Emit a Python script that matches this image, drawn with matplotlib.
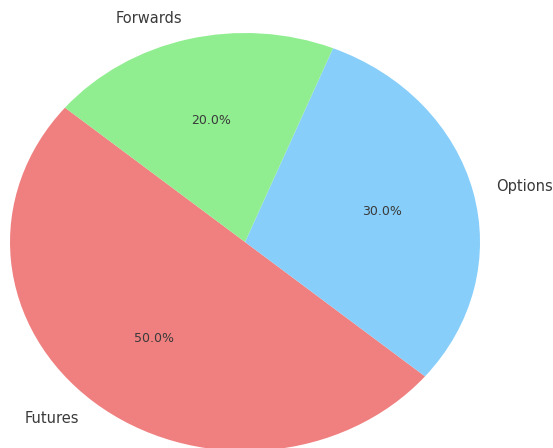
import matplotlib
matplotlib.use("Agg")
import matplotlib.pyplot as plt

labels = ["Futures", "Options", "Forwards"]
shares = [50, 30, 20]
colors = ["lightcoral", "lightskyblue", "lightgreen"]

fig = plt.figure(figsize=(5.53, 4.48), dpi=100)
ax = fig.add_axes([0, 0, 1, 1])

wedges, texts, autotexts = ax.pie(
    shares,
    labels=labels,
    colors=colors,
    autopct="%1.1f%%",
    startangle=140,
    textprops={"color": "#3a3a3a", "fontsize": 10.5},
)
for t in autotexts:
    t.set_fontsize(9)

# stretched (non-circular) pie as in the reference
ax.set_aspect("auto")
ax.set_xlim(-1.0426, 1.3106)
ax.set_ylim(-0.9856, 1.1579)
ax.axis("off")

fig.savefig("out.png", dpi=100)
